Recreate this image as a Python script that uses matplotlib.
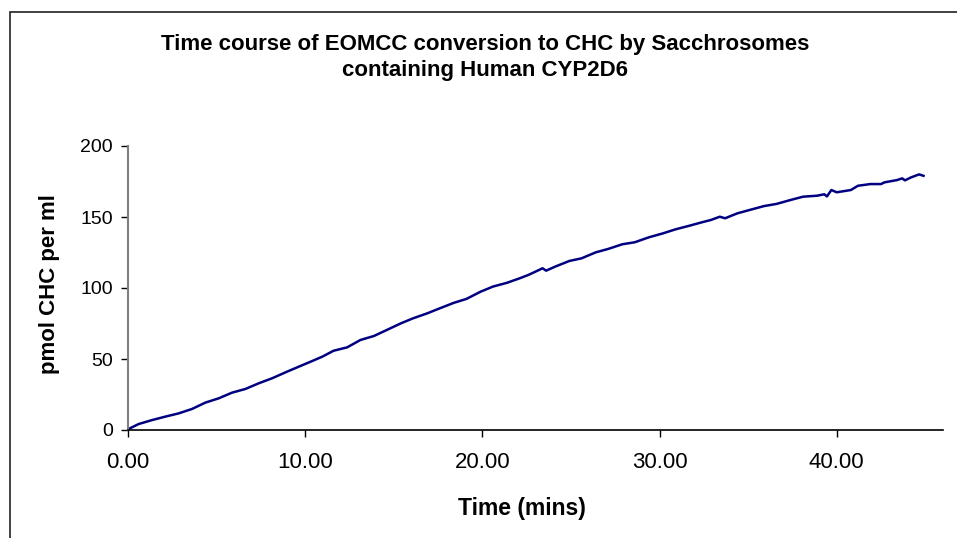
import matplotlib
matplotlib.use("Agg")
import matplotlib.pyplot as plt
from matplotlib.patches import Rectangle
from matplotlib.ticker import FormatStrFormatter

# Data (time in mins, pmol CHC per ml)
time_mins = [0.0, 0.6, 1.36, 2.1, 2.86, 3.61, 4.37, 5.12, 5.87, 6.63, 7.38, 8.13,
             8.89, 9.64, 10.4, 10.96, 11.6, 12.37, 13.12, 13.88, 14.6, 15.4, 16.1,
             16.9, 17.6, 18.4, 19.1, 19.9, 20.6, 21.4, 22.1, 22.6, 23.2, 23.4, 23.6,
             24.1, 24.9, 25.6, 26.4, 27.1, 27.9, 28.6, 29.4, 30.2, 30.9, 31.7, 32.4,
             32.9, 33.4, 33.7, 34.4, 35.1, 35.9, 36.6, 37.4, 38.1, 38.9, 39.3, 39.45,
             39.7, 40.0, 40.8, 41.2, 41.9, 42.5, 42.7, 43.4, 43.7, 43.85, 44.2, 44.65,
             44.9]
chc_pmol = [0.5, 4.2, 7.0, 9.4, 11.7, 14.8, 19.3, 22.3, 26.3, 28.9, 32.9, 36.4,
            40.6, 44.6, 48.6, 51.6, 55.8, 58.2, 63.4, 66.2, 70.4, 75.1, 78.7,
            82.2, 85.7, 89.6, 92.3, 97.4, 101.0, 103.7, 106.8, 109.2, 112.7, 113.9, 112.2,
            115.0, 119.0, 120.9, 125.1, 127.5, 130.8, 132.2, 135.7, 138.5, 141.3, 143.9, 146.3,
            147.9, 150.2, 149.1, 152.6, 155.0, 157.7, 159.2, 162.0, 164.3, 165.0, 166.0, 164.5,
            169.0, 167.4, 169.0, 172.0, 173.2, 173.2, 174.4, 176.0, 177.2, 175.8, 177.9, 180.0,
            179.0]

x_ticks = [0, 10, 20, 30, 40]
y_ticks = [0, 50, 100, 150, 200]
title = "Time course of EOMCC conversion to CHC by Sacchrosomes\ncontaining Human CYP2D6"
x_label = "Time (mins)"
y_label = "pmol CHC per ml"

plt.rcParams['font.family'] = ['Liberation Sans', 'DejaVu Sans']

W, H = 957, 538
fig = plt.figure(figsize=(W / 100, H / 100), dpi=100)

# chart frame (cropped at right and bottom)
fig.patches.append(Rectangle((10 / W, -0.1), 1.2, 1 - 12 / H + 0.1,
                             transform=fig.transFigure, fill=False,
                             edgecolor='#222222', linewidth=1.2))

ax = fig.add_axes([128 / W, 1 - 430 / H, (943 - 128) / W, (430 - 146) / H])
ax.plot(time_mins, chc_pmol, color='#000080', linewidth=1.8)

ax.set_xlim(0, 46)
ax.set_ylim(0, 200)
ax.set_xticks(x_ticks)
ax.set_yticks(y_ticks)
ax.xaxis.set_major_formatter(FormatStrFormatter('%.2f'))

for s in ['top', 'right']:
    ax.spines[s].set_visible(False)
ax.spines['left'].set_color('#808080')
ax.spines['left'].set_linewidth(1.5)
ax.spines['bottom'].set_color('black')
ax.spines['bottom'].set_linewidth(1.2)

ax.tick_params(axis='y', direction='out', length=5, width=1, color='black',
               labelsize=14, pad=6)
ax.tick_params(axis='x', direction='out', length=5, width=1, color='black',
               labelsize=16, pad=11)

fig.text(485 / W, 1 - 57.5 / H, title, ha='center', va='center',
         fontsize=16, fontweight='bold', linespacing=1.33)
fig.text(522 / W, 1 - 508 / H, x_label, ha='center', va='center',
         fontsize=16.5, fontweight='bold')
fig.text(50 / W, 1 - 284 / H, y_label, ha='center', va='center',
         fontsize=16, fontweight='bold', rotation=90)

fig.savefig('out.png', dpi=100)
